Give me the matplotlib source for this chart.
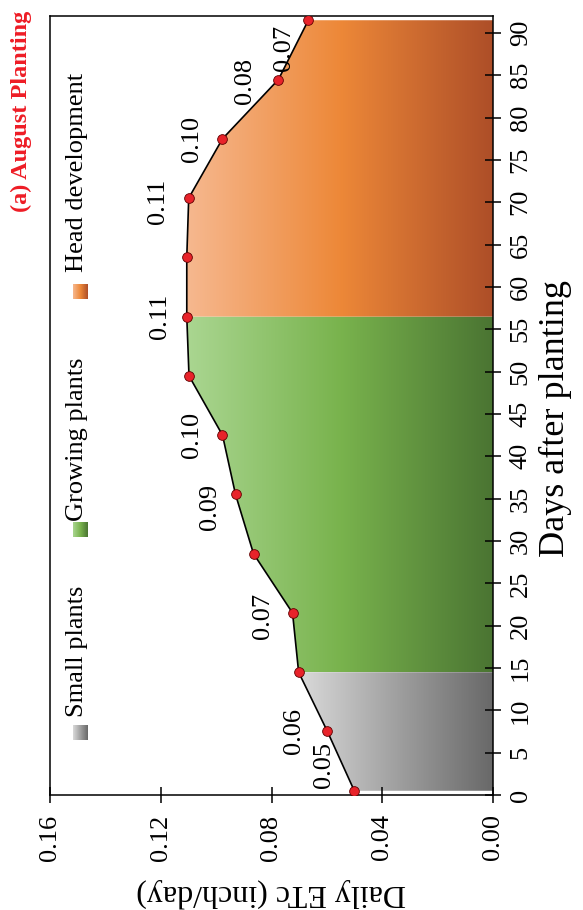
import numpy as np
import matplotlib.pyplot as plt
from matplotlib.colors import LinearSegmentedColormap
from matplotlib.patches import Polygon

plt.rcParams['font.family'] = ['Liberation Serif', 'DejaVu Serif']

# weekly crop ET values (inch/day) against days after planting
days = [0.5, 7.5, 14.5, 21.5, 28.5, 35.5, 42.5, 49.5, 56.5, 63.5, 70.5, 77.5, 84.5, 91.5]
etc = [0.0501, 0.0598, 0.0702, 0.0724, 0.0865, 0.0930, 0.0977, 0.1098,
       0.1106, 0.1106, 0.1099, 0.0977, 0.0775, 0.0667]

stage_names = ["Small plants", "Growing plants", "Head development"]
stage_edges = [0.5, 14.5, 56.5, 91.5]

# points that carry a value label
labelled_days = [0.5, 7.5, 21.5, 35.5, 42.5, 56.5, 70.5, 77.5, 84.5, 91.5]

day_ticks = list(range(0, 91, 5))
etc_ticks = [0.00, 0.04, 0.08, 0.12, 0.16]

# styling
label_offsets = [(-30, 26), (-33, 0), (-30, -3), (-26, -13), (-30, 0),
                 (-27, 0), (-31, -3), (-30, 0), (-33, -1), (-24, -28)]
stage_colors = [
    ["#dadada", "#a0a0a0", "#686868"],
    ["#aad691", "#79b34d", "#4a7432"],
    ["#f6b88f", "#ed8838", "#ad4e28"],
]
legend_y = [0.080, 0.340, 0.646]     # square centres, axes fraction
legend_text_y = [0.100, 0.352, 0.672]

fig = plt.figure(figsize=(5.83, 9.10), dpi=100)
ax = fig.add_axes([50 / 583, 1 - 795 / 910, 443 / 583, 779 / 910])

grad = np.linspace(0, 1, 256)[None, :]

for i in range(3):
    d0, d1 = stage_edges[i], stage_edges[i + 1]
    pts = [(v, d) for v, d in zip(etc, days) if d0 <= d <= d1]
    verts = pts + [(0, d1), (0, d0)]
    poly = Polygon(verts, closed=True, facecolor='none', edgecolor='none')
    ax.add_patch(poly)
    cmap = LinearSegmentedColormap.from_list(f"stage{i}", stage_colors[i])
    vmax = max(v for v, _ in pts)
    im = ax.imshow(grad, cmap=cmap, extent=(vmax, 0, d0, d1), aspect='auto',
                   interpolation='bilinear', zorder=1)
    im.set_clip_path(poly)

    # legend entry
    ax.imshow(grad, cmap=cmap, aspect='auto', transform=ax.transAxes,
              extent=(0.0677 - 0.016, 0.0677 + 0.016,
                      legend_y[i] - 0.009, legend_y[i] + 0.009), zorder=5)
    ax.text(0.061, legend_text_y[i], stage_names[i], transform=ax.transAxes,
            rotation=90, ha='center', va='bottom', fontsize=19)

ax.plot(etc, days, color='black', lw=1.2, zorder=3)
ax.plot(etc, days, 'o', mfc='#e8232a', mec='#600000', ms=7, mew=0.6, zorder=4)

for d, (dx, dy) in zip(labelled_days, label_offsets):
    v = etc[days.index(d)]
    ax.annotate(f"{v:.2f}", (v, d), xytext=(dx, dy), textcoords='offset pixels',
                rotation=90, ha='center', va='center', fontsize=19, zorder=6)

ax.set_xlim(0.16, 0.0)
ax.set_ylim(0, 92)
ax.set_xticks(etc_ticks)
ax.set_xticklabels([f"{t:.2f}" for t in etc_ticks])
ax.set_yticks(day_ticks)

ax.yaxis.tick_right()
ax.yaxis.set_label_position('right')
ax.tick_params(axis='both', direction='inout', length=12, width=1.1, labelsize=19)
ax.tick_params(axis='x', labelrotation=90, pad=8)
ax.tick_params(axis='y', labelrotation=90, pad=6)
for lab in ax.get_yticklabels():
    lab.set_va('center')

for sp in ax.spines.values():
    sp.set_linewidth(1.1)

ax.set_ylabel("Days after planting", fontsize=26, rotation=90)
ax.yaxis.set_label_coords(1.14, 0.483)
ax.yaxis.label.set_va('center')
ax.yaxis.label.set_ha('center')

ax.set_xlabel("Daily ETc (inch/day)", fontsize=23, rotation=180)
ax.xaxis.set_label_coords(0.5, -0.126)
ax.xaxis.label.set_va('center')

fig.text(21 / 583, 1 - 111 / 910, "(a) August Planting", rotation=90,
         color='#ee1c25', fontweight='bold', fontsize=17.5, ha='center', va='center')

fig.savefig("out.png", dpi=100)
